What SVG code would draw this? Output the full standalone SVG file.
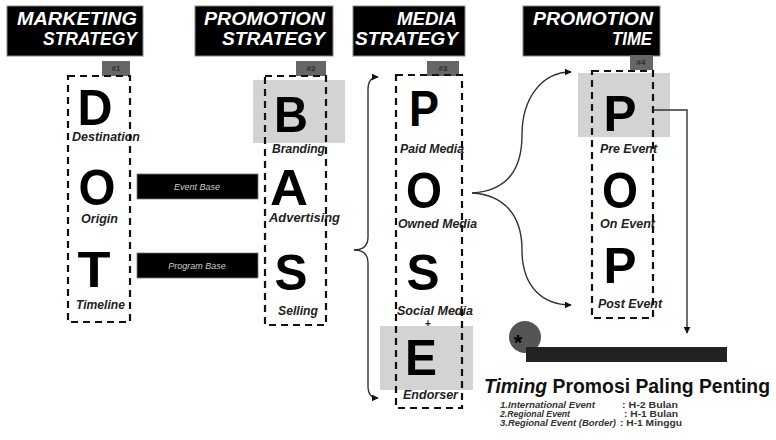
<svg xmlns="http://www.w3.org/2000/svg" width="776" height="440" viewBox="0 0 776 440">
<defs>
<style>
.title{fill:#000;stroke:#888;stroke-width:1}
.tt{font-family:"Liberation Sans",Arial,sans-serif;font-weight:bold;font-style:italic;font-size:19px;fill:#fff}
.big{font-family:"Liberation Sans",Arial,sans-serif;font-weight:bold;font-size:50px;fill:#000;text-anchor:middle}
.lbl{font-family:"Liberation Sans",Arial,sans-serif;font-weight:bold;font-style:italic;font-size:12px;fill:#222}
.dash{fill:none;stroke:#111;stroke-width:2.2;stroke-dasharray:7 5}
.tag{fill:#666}
.tagt{font-family:"Liberation Sans",Arial,sans-serif;font-weight:bold;font-size:8px;fill:#2a2a2a;text-anchor:middle}
.hl{fill:#d3d3d3}
.bar{fill:#000;stroke:#777;stroke-width:0.8}
.bart{font-family:"Liberation Sans",Arial,sans-serif;font-style:italic;font-size:9px;fill:#ccc;text-anchor:middle}
.conn{fill:none;stroke:#333;stroke-width:1.4}
.list{font-family:"Liberation Sans",Arial,sans-serif;font-weight:bold;font-style:italic;font-size:9px;fill:#333}
.list2{font-family:"Liberation Sans",Arial,sans-serif;font-weight:bold;font-size:9px;fill:#333}
</style>
<marker id="ah" viewBox="0 0 10 10" refX="9" refY="5" markerWidth="7" markerHeight="7" markerUnits="userSpaceOnUse" orient="auto">
<path d="M0,0 L10,5 L0,10 z" fill="#111"/>
</marker>
</defs>
<rect width="776" height="440" fill="#fff"/>

<g id="title-marketing">
<rect class="title" x="7" y="6" width="136" height="50"/>
<text class="tt" x="17" y="25" textLength="120" lengthAdjust="spacingAndGlyphs">MARKETING</text>
<text class="tt" x="43" y="45" textLength="94" lengthAdjust="spacingAndGlyphs">STRATEGY</text>
</g>
<g id="title-promotion">
<rect class="title" x="195" y="6" width="138" height="50"/>
<text class="tt" x="204" y="25" textLength="121" lengthAdjust="spacingAndGlyphs">PROMOTION</text>
<text class="tt" x="222" y="45" textLength="103" lengthAdjust="spacingAndGlyphs">STRATEGY</text>
</g>
<g id="title-media">
<rect class="title" x="353" y="6" width="112" height="50"/>
<text class="tt" x="397" y="25" textLength="60" lengthAdjust="spacingAndGlyphs">MEDIA</text>
<text class="tt" x="355" y="45" textLength="103" lengthAdjust="spacingAndGlyphs">STRATEGY</text>
</g>
<g id="title-time">
<rect class="title" x="523" y="6" width="137" height="50"/>
<text class="tt" x="533" y="25" textLength="120" lengthAdjust="spacingAndGlyphs">PROMOTION</text>
<text class="tt" x="612" y="45" textLength="40" lengthAdjust="spacingAndGlyphs">TIME</text>
</g>

<g id="col-dot">
<rect class="tag" x="102" y="61" width="28" height="15"/>
<text class="tagt" x="116" y="71">#1</text>
<text class="big" x="95" y="125" textLength="35" lengthAdjust="spacingAndGlyphs">D</text>
<text class="lbl" x="72" y="141" textLength="68" lengthAdjust="spacingAndGlyphs">Destination</text>
<text class="big" x="97" y="205" textLength="37" lengthAdjust="spacingAndGlyphs">O</text>
<text class="lbl" x="81" y="223" textLength="37" lengthAdjust="spacingAndGlyphs">Origin</text>
<text class="big" x="94" y="287" textLength="33" lengthAdjust="spacingAndGlyphs">T</text>
<text class="lbl" x="76" y="309" textLength="49" lengthAdjust="spacingAndGlyphs">Timeline</text>
<rect class="dash" x="68" y="76" width="62" height="246"/>
</g>

<g id="col-bas">
<rect class="hl" x="253" y="80" width="92" height="63"/>
<rect class="tag" x="296" y="61" width="30" height="15"/>
<text class="tagt" x="311" y="71">#2</text>
<text class="big" x="291" y="132" textLength="34" lengthAdjust="spacingAndGlyphs">B</text>
<text class="lbl" x="272" y="153" textLength="53" lengthAdjust="spacingAndGlyphs">Branding</text>
<text class="big" x="289" y="205" textLength="38" lengthAdjust="spacingAndGlyphs">A</text>
<text class="lbl" x="269" y="222" textLength="71" lengthAdjust="spacingAndGlyphs">Advertising</text>
<text class="big" x="291" y="290" textLength="33" lengthAdjust="spacingAndGlyphs">S</text>
<text class="lbl" x="278" y="315" textLength="40" lengthAdjust="spacingAndGlyphs">Selling</text>
<rect class="dash" x="265" y="76" width="61" height="249"/>
</g>

<g id="bar-event">
<rect class="bar" x="137" y="174" width="121" height="25"/>
<text class="bart" x="197" y="190">Event Base</text>
</g>
<g id="bar-program">
<rect class="bar" x="137" y="253" width="121" height="25"/>
<text class="bart" x="197" y="269">Program Base</text>
</g>

<g id="col-pose">
<rect class="hl" x="380" y="326" width="93" height="64"/>
<rect class="tag" x="427" y="61" width="32" height="15"/>
<text class="tagt" x="443" y="71">#3</text>
<text class="big" x="424" y="126" textLength="30" lengthAdjust="spacingAndGlyphs">P</text>
<text class="lbl" x="400" y="153" textLength="64" lengthAdjust="spacingAndGlyphs">Paid Media</text>
<text class="big" x="424" y="208" textLength="36" lengthAdjust="spacingAndGlyphs">O</text>
<text class="lbl" x="398" y="228" textLength="79" lengthAdjust="spacingAndGlyphs">Owned Media</text>
<text class="big" x="423" y="290" textLength="33" lengthAdjust="spacingAndGlyphs">S</text>
<text class="lbl" x="397" y="315" textLength="76" lengthAdjust="spacingAndGlyphs">Social Media</text>
<text class="lbl" x="428" y="327" text-anchor="middle" style="font-style:normal;font-size:10px">+</text>
<text class="big" x="421" y="375" textLength="32" lengthAdjust="spacingAndGlyphs">E</text>
<text class="lbl" x="403" y="399" textLength="55" lengthAdjust="spacingAndGlyphs">Endorser</text>
<rect class="dash" x="396" y="75" width="66" height="333"/>
</g>

<g id="col-pop">
<rect class="hl" x="578" y="73" width="92" height="64"/>
<rect class="tag" x="630" y="55" width="23" height="15"/>
<text class="tagt" x="641" y="65">#4</text>
<text class="big" x="620" y="131" textLength="33" lengthAdjust="spacingAndGlyphs">P</text>
<text class="lbl" x="600" y="153" textLength="57" lengthAdjust="spacingAndGlyphs">Pre Event</text>
<text class="big" x="620" y="208" textLength="36" lengthAdjust="spacingAndGlyphs">O</text>
<text class="lbl" x="600" y="228" textLength="55" lengthAdjust="spacingAndGlyphs">On Event</text>
<text class="big" x="620" y="283" textLength="33" lengthAdjust="spacingAndGlyphs">P</text>
<text class="lbl" x="598" y="308" textLength="64" lengthAdjust="spacingAndGlyphs">Post Event</text>
<rect class="dash" x="592" y="71" width="61" height="247"/>
</g>

<g id="connectors">
<path class="conn" d="M354,250 Q368,250 368,237 L368,90 Q368,77 378,77" marker-end="url(#ah)"/>
<path class="conn" d="M354,250 Q368,250 368,263 L368,386 Q368,398 378,398" marker-end="url(#ah)"/>
<path class="conn" d="M472,193 C505,191 522,172 522,135 C522,98 542,72 571,72" marker-end="url(#ah)"/>
<path class="conn" d="M472,193 C505,195 522,216 522,250 C522,286 542,305 571,305" marker-end="url(#ah)"/>
<path class="conn" d="M653,110 H687 V333" marker-end="url(#ah)"/>
</g>

<g id="timing">
<circle cx="525" cy="337" r="16" fill="#555"/>
<rect x="526" y="347" width="201" height="15" fill="#222"/>
<text x="518" y="350" font-family="Liberation Sans,Arial,sans-serif" font-weight="bold" font-size="22" fill="#000" text-anchor="middle">*</text>
<text x="484" y="393" font-family="Liberation Sans,Arial,sans-serif" font-weight="bold" font-size="19.5" fill="#111" textLength="286" lengthAdjust="spacingAndGlyphs"><tspan font-style="italic">Timing</tspan> Promosi Paling Penting</text>
<text class="list" x="500" y="408" textLength="95" lengthAdjust="spacingAndGlyphs">1.International Event</text>
<text class="list" x="500" y="417" textLength="70" lengthAdjust="spacingAndGlyphs">2.Regional Event</text>
<text class="list" x="500" y="426" textLength="116" lengthAdjust="spacingAndGlyphs">3.Regional Event (Border)</text>
<text class="list2" x="622" y="408" textLength="56" lengthAdjust="spacingAndGlyphs">:  H-2 Bulan</text>
<text class="list2" x="624" y="417" textLength="54" lengthAdjust="spacingAndGlyphs">:  H-1 Bulan</text>
<text class="list2" x="620" y="426" textLength="62" lengthAdjust="spacingAndGlyphs">:  H-1 Minggu</text>
</g>
</svg>
